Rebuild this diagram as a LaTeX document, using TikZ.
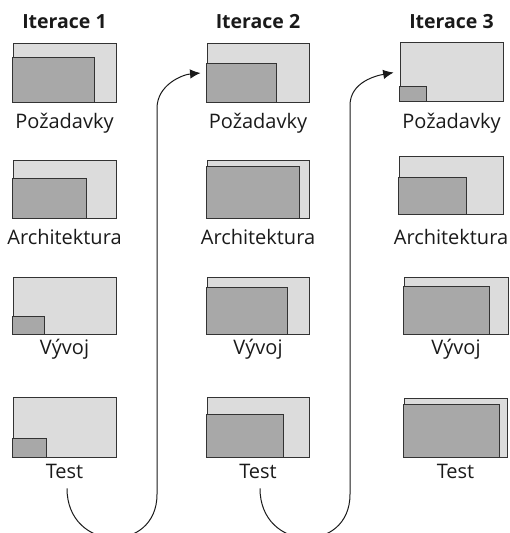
\documentclass[tikz,border=0pt]{standalone}
\usepackage{fontspec}
\setmainfont{Open Sans}
\usetikzlibrary{arrows.meta,fit}
\definecolor{PaleGray}{HTML}{DCDCDC}
\definecolor{MidGray}{HTML}{A8A8A8}
\definecolor{Edge}{HTML}{333333}
\definecolor{Ink}{HTML}{1A1A1A}
% #1 name, #2-#5 outer box, #6 inner right, #7 inner top, #8 label baseline, #9 label
\newcommand{\stage}[9]{%
  \node[stagebox,fit={(#2,#3) (#4,#5)}] (#1) {};
  \draw[donebox] (#1.south west) rectangle (#6,#7);
  \node[lbl] (#1txt) at ({(#2+#4)/2},#8) {#9};
}

\begin{document}
\begin{tikzpicture}[x=1pt,y=-1pt,>=Latex,
    stagebox/.style={draw=Edge,fill=PaleGray,line width=0.9pt,inner sep=0pt},
    donebox/.style={draw=Edge,fill=MidGray,line width=0.9pt},
    lbl/.style={anchor=base,inner sep=0pt,font=\fontsize{20}{22}\selectfont,text=Ink},
    head/.style={anchor=base,inner sep=0pt,font=\fontsize{19.5}{22}\selectfont\bfseries,text=Ink},
    flow/.style={draw=Ink,line width=1pt,-{Latex[length=10.5pt,width=9.5pt]}}]
    \useasboundingbox (0,0) rectangle (510,533);
    \clip (0,0) rectangle (510,533);

    \node[head] (it1) at (64.5,28) {Iterace 1};
    \node[head] (it2) at (258,28) {Iterace 2};
    \node[head] (it3) at (451.5,28) {Iterace 3};

    % first iteration
    \stage{p1}{13}{43}{116}{102}{94}{57}{128}{Požadavky}
    \stage{a1}{13}{160}{116}{218}{86}{178}{244}{Architektura}
    \stage{v1}{13}{277}{116}{334}{44}{316}{354}{Vývoj}
    \stage{t1}{13}{397}{116}{457}{46}{438}{478}{Test}

    % second iteration
    \stage{p2}{207}{43}{309}{102}{276}{63}{128}{Požadavky}
    \stage{a2}{207}{160}{309}{218}{299}{166}{244}{Architektura}
    \stage{v2}{207}{277}{309}{334}{287}{287}{354}{Vývoj}
    \stage{t2}{207}{397}{309}{457}{283}{414}{478}{Test}

    % third iteration
    \stage{p3}{400}{42}{503}{101}{426}{86}{128}{Požadavky}
    \stage{a3}{399}{156}{503}{214}{466}{177}{244}{Architektura}
    \stage{v3}{404}{277}{508}{334}{489}{286}{354}{Vývoj}
    \stage{t3}{404}{398}{507}{457}{499}{404}{478}{Test}

    % feedback loops into the next iteration
    \draw[flow,shorten >=6pt] ([xshift=2.5pt,yshift=-10pt]t1txt.south)
      .. controls +(0,64) and +(0,60) .. ++(90,6) -- ++(0,-386)
      to[out=90,in=185] (p2.west);
    \draw[flow,shorten >=6pt] ([xshift=2pt,yshift=-10pt]t2txt.south)
      .. controls +(0,64) and +(0,60) .. ++(90,6) -- ++(0,-389)
      to[out=90,in=190] (p3.west);
  \end{tikzpicture}
\end{document}
